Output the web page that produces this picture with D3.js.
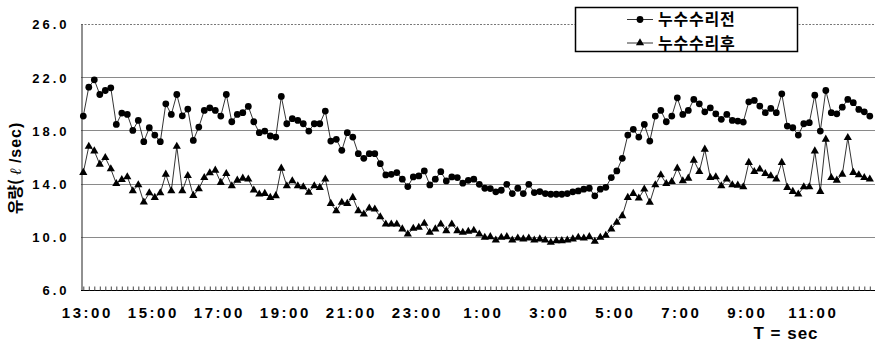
<!DOCTYPE html>
<html>
<head>
<meta charset="utf-8">
<script src="https://cdn.jsdelivr.net/npm/d3@7"></script>
<style>
  body { margin: 0; background: #fff; }
  svg { display: block; }
</style>
</head>
<body>
<svg id="chart" width="875" height="343"></svg>
<script>
// 10-minute readings from 13:00 to 12:50 next day
var beforeRepair = [
  19.08, 21.25, 21.8, 20.7, 21.0, 21.2, 18.45, 19.3, 19.2, 18.0, 18.75, 17.15,
  18.2, 17.65, 17.15, 20.0, 19.2, 20.7, 19.1, 19.6, 17.25, 18.25, 19.5, 19.7,
  19.5, 19.08, 20.7, 18.65, 19.2, 19.33, 19.8, 18.65, 17.83, 17.95, 17.58, 17.5,
  20.55, 18.5, 18.88, 18.75, 18.5, 17.95, 18.5, 18.5, 19.45, 17.2, 17.33, 16.5,
  17.83, 17.5, 16.25, 15.9, 16.25, 16.25, 15.5, 14.65, 14.7, 14.83, 14.33, 13.78,
  14.5, 14.58, 14.95, 13.9, 14.33, 14.9, 14.2, 14.5, 14.45, 14.03, 14.25, 14.33,
  13.95, 13.65, 13.63, 13.38, 13.5, 13.95, 13.25, 13.65, 13.25, 13.95, 13.33, 13.4,
  13.25, 13.2, 13.2, 13.2, 13.25, 13.38, 13.45, 13.58, 13.65, 13.08, 13.58, 13.72,
  14.45, 14.95, 15.9, 17.65, 18.08, 17.5, 18.45, 17.2, 19.08, 19.5, 18.65, 19.08,
  20.45, 19.2, 19.5, 20.33, 20.0, 19.4, 19.7, 19.25, 18.83, 19.2, 18.75, 18.7,
  18.63, 20.15, 20.25, 19.83, 19.33, 19.65, 19.33, 20.75, 18.33, 18.2, 17.65, 18.5,
  18.58, 20.65, 17.95, 21.0, 19.33, 19.25, 19.75, 20.33, 20.08, 19.58, 19.4, 19.08
];
var afterRepair = [
  14.83, 16.8, 16.45, 15.45, 15.95, 15.1, 14.0, 14.3, 14.5, 13.45, 13.9, 12.6,
  13.3, 12.95, 13.3, 14.7, 13.45, 16.8, 13.45, 14.6, 13.1, 13.6, 14.45, 14.8,
  15.0, 14.08, 14.75, 13.83, 14.25, 14.4, 14.33, 13.5, 13.2, 13.25, 12.95, 13.08,
  15.15, 13.83, 14.2, 13.83, 13.75, 13.33, 13.83, 13.7, 14.33, 12.5, 11.95, 12.58,
  12.5, 12.95, 11.95, 11.7, 12.15, 12.08, 11.5, 10.95, 10.95, 10.95, 10.58, 10.2,
  10.63, 10.7, 11.0, 10.33, 10.58, 10.95, 10.45, 10.95, 10.45, 10.33, 10.4, 10.48,
  10.2, 9.95, 10.0, 9.75, 9.95, 10.0, 9.75, 9.9, 9.83, 9.9, 9.75, 9.83,
  9.75, 9.58, 9.7, 9.7, 9.75, 9.83, 9.95, 9.9, 10.0, 9.65, 9.95, 10.1,
  10.58, 11.08, 11.58, 12.95, 13.25, 12.9, 13.58, 12.58, 13.9, 14.65, 14.0, 14.15,
  15.15, 14.2, 14.4, 15.75, 14.9, 16.58, 14.45, 14.5, 13.83, 14.33, 13.9, 13.87,
  13.75, 15.58, 14.9, 15.08, 14.75, 14.58, 14.33, 15.58, 13.7, 13.4, 13.2, 13.75,
  13.75, 16.45, 13.4, 17.33, 14.45, 14.25, 14.7, 17.45, 14.83, 14.65, 14.45, 14.33
];
var timeLabels = ["13:00", "15:00", "17:00", "19:00", "21:00", "23:00",
                  "1:00", "3:00", "5:00", "7:00", "9:00", "11:00"];
var yTicks = [6, 10, 14, 18, 22, 26];
var seriesNames = ["누수수리전", "누수수리후"];

var svg = d3.select("#chart");
var margin = { top: 24, bottom: 290, left: 81, right: 875 };

var x = d3.scaleLinear()
    .domain([0, beforeRepair.length - 1])
    .range([83.3, 869.8]);

var y = d3.scaleLinear()
    .domain([6, 26])
    .range([margin.bottom, margin.top]);

// grid lines
svg.append("g")
    .selectAll("line")
    .data(yTicks.slice(1))
    .join("line")
    .attr("x1", margin.left)
    .attr("x2", margin.right)
    .attr("y1", d => Math.round(y(d)) + 0.5)
    .attr("y2", d => Math.round(y(d)) + 0.5)
    .attr("stroke", d => d == 26 ? "#777" : "#8a8a8a")
    .attr("stroke-width", 1)
    .attr("stroke-dasharray", d => d == 26 ? "2,1.5" : null);

// y axis
var yAxis = d3.axisLeft(y).tickValues(yTicks).tickSize(0).tickFormat(d3.format(".1f"));
svg.append("g")
    .attr("transform", `translate(${margin.left + 0.5},0)`)
    .call(yAxis)
    .call(g => g.select(".domain").attr("stroke", "#222"))
    .call(g => g.selectAll("text")
        .attr("x", -12)
        .attr("dy", "0.38em")
        .attr("fill", "#000")
        .attr("font-family", "'Liberation Sans', Arial, sans-serif")
        .attr("font-size", "13px")
        .attr("font-weight", "bold")
        .attr("letter-spacing", "3px"));

// x axis with minor ticks at each reading
var xAxis = d3.axisBottom(x)
    .tickValues(d3.range(beforeRepair.length))
    .tickSize(-4)
    .tickFormat("");
svg.append("g")
    .attr("transform", `translate(0,${margin.bottom + 0.5})`)
    .call(xAxis)
    .call(g => g.select(".domain").attr("d", `M${margin.left},0H${margin.right}`).attr("stroke", "#000"))
    .call(g => g.selectAll(".tick line").attr("stroke", "#444"));

svg.append("g")
    .selectAll("text")
    .data(timeLabels)
    .join("text")
    .attr("x", (d, i) => x(i * 12) + 4)
    .attr("y", 318)
    .attr("text-anchor", "middle")
    .attr("font-family", "'Liberation Sans', Arial, sans-serif")
    .attr("font-size", "15px")
    .attr("font-weight", "bold")
    .attr("letter-spacing", "2.5px")
    .text(d => d);

svg.append("text")
    .attr("x", 786)
    .attr("y", 339)
    .attr("text-anchor", "middle")
    .attr("font-family", "'Liberation Sans', Arial, sans-serif")
    .attr("font-size", "17px")
    .attr("font-weight", "bold")
    .attr("letter-spacing", "1px")
    .text("T = sec");

// y title
var yTitle = svg.append("text")
    .attr("transform", "translate(21,168) rotate(-90)")
    .attr("text-anchor", "middle")
    .attr("font-family", "'Noto Sans CJK KR', 'Liberation Sans', sans-serif")
    .attr("font-size", "16px")
    .attr("font-weight", "bold");
yTitle.append("tspan").text("유량( ");
yTitle.append("tspan").attr("font-style", "italic").attr("font-family", "'DejaVu Serif', serif").attr("font-weight", "normal").text("ℓ");
yTitle.append("tspan").attr("font-family", "'Liberation Sans', Arial, sans-serif").attr("letter-spacing", "1px").text(" /sec)");

// series
var line = d3.line()
    .x((d, i) => x(i))
    .y(d => y(d));

var symbols = [d3.symbolCircle, d3.symbolTriangle];
var symbolSizes = [36, 29];

[beforeRepair, afterRepair].forEach((data, k) => {
    svg.append("path")
        .datum(data)
        .attr("fill", "none")
        .attr("stroke", "#000")
        .attr("stroke-width", 0.8)
        .attr("d", line);

    svg.append("g")
        .selectAll("path")
        .data(data)
        .join("path")
        .attr("transform", (d, i) => `translate(${x(i)},${y(d)})`)
        .attr("d", d3.symbol().type(symbols[k]).size(symbolSizes[k]))
        .attr("fill", "#000");
});

// legend
var legend = svg.append("g");
legend.append("rect")
    .attr("x", 575.5)
    .attr("y", 7.5)
    .attr("width", 222)
    .attr("height", 44)
    .attr("fill", "#fff")
    .attr("stroke", "#000")
    .attr("stroke-width", 1.5);

seriesNames.forEach((name, k) => {
    var ly = 19.5 + k * 23.5;
    legend.append("line")
        .attr("x1", 627).attr("x2", 653)
        .attr("y1", ly).attr("y2", ly)
        .attr("stroke", "#000")
        .attr("stroke-width", 0.8);
    legend.append("path")
        .attr("transform", `translate(640,${ly})`)
        .attr("d", d3.symbol().type(symbols[k]).size(symbolSizes[k]))
        .attr("fill", "#000");
    legend.append("text")
        .attr("x", 658)
        .attr("y", ly)
        .attr("dy", "0.36em")
        .attr("font-family", "'Noto Sans CJK KR', sans-serif")
        .attr("font-size", "16px")
        .attr("font-weight", "bold")
        .attr("letter-spacing", "0.8px")
        .text(name);
});
</script>
</body>
</html>
